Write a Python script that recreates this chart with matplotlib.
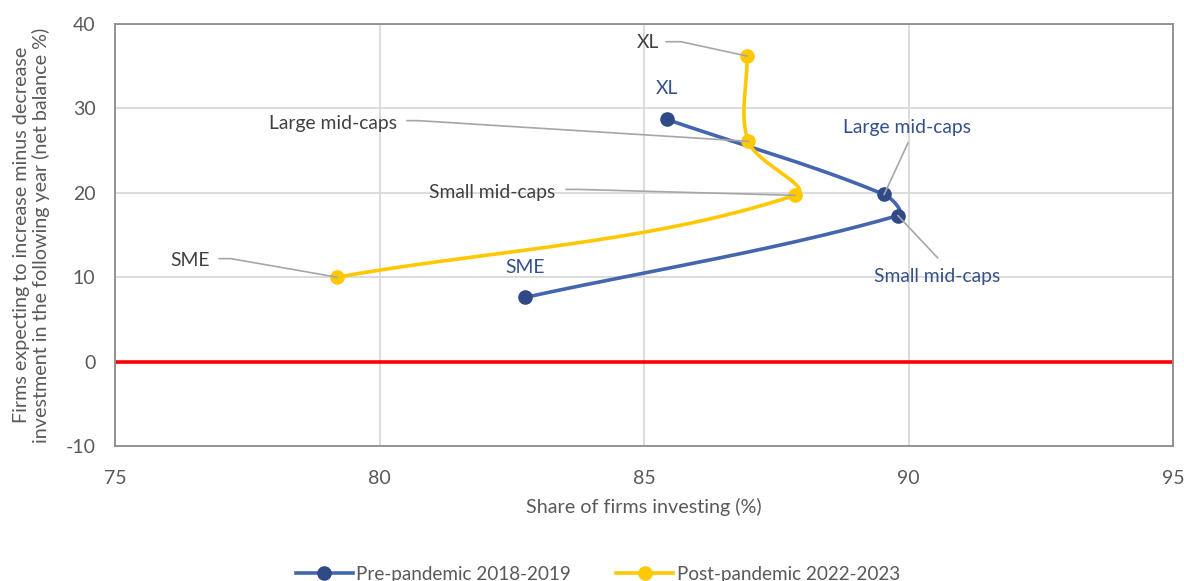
import numpy as np
import matplotlib
matplotlib.use("Agg")
import matplotlib.pyplot as plt
from matplotlib.lines import Line2D

# ---- data ----
labels = ["XL", "Large mid-caps", "Small mid-caps", "SME"]
pre_x = [85.43, 89.54, 89.80, 82.75]
pre_y = [28.7, 19.8, 17.3, 7.6]
post_x = [86.95, 86.97, 87.85, 79.2]
post_y = [36.2, 26.1, 19.7, 10.0]
series_names = ["Pre-pandemic 2018-2019", "Post-pandemic 2022-2023"]
x_ticks = [75, 80, 85, 90, 95]
y_ticks = [-10, 0, 10, 20, 30, 40]

plt.rcParams['font.family'] = ['Lato', 'DejaVu Sans']
plt.rcParams['axes.unicode_minus'] = False

BLUE_LINE = "#4466AE"
BLUE_MARK = "#2F4A86"
BLUE_TEXT = "#34508C"
YELLOW = "#FFC800"
GRAY_TEXT = "#404040"
TICK_COL = "#595959"
LEADER = "#A6A6A6"

fig = plt.figure(figsize=(11.84, 5.81), dpi=100)
ax = fig.add_axes([115/1184, 1-446/581, (1173-115)/1184, (446-24)/581])
ax.set_xlim(75, 95)
ax.set_ylim(-10, 40)
ax.set_xticks(x_ticks)
ax.set_yticks(y_ticks)
ax.tick_params(length=0, labelsize=14, labelcolor=TICK_COL)
ax.tick_params(axis="x", pad=17)
ax.tick_params(axis="y", pad=14)
ax.grid(True, color="#D9D9D9", linewidth=1.3)
ax.set_axisbelow(True)
for s in ax.spines.values():
    s.set_color("#8C8C8C")
    s.set_linewidth(1.3)

ax.axhline(0, color="#FF0000", linewidth=2.6, zorder=2)


def smooth(xs, ys, n=60):
    pts = ax.transData.transform(np.column_stack([xs, ys]))
    out = []
    m = len(pts)
    for i in range(m - 1):
        p0 = pts[max(i - 1, 0)]
        p1 = pts[i]
        p2 = pts[i + 1]
        p3 = pts[min(i + 2, m - 1)]
        d = np.linalg.norm(p2 - p1)
        t1 = p2 - p0
        t2 = p3 - p1
        n1 = np.linalg.norm(t1)
        n2 = np.linalg.norm(t2)
        c1 = p1 + (t1 / n1 * d / 3 if n1 > 0 else 0)
        c2 = p2 - (t2 / n2 * d / 3 if n2 > 0 else 0)
        t = np.linspace(0, 1, n)[:, None]
        seg = (1 - t) ** 3 * p1 + 3 * (1 - t) ** 2 * t * c1 + 3 * (1 - t) * t ** 2 * c2 + t ** 3 * p2
        out.append(seg if i == 0 else seg[1:])
    return ax.transData.inverted().transform(np.vstack(out))


sp = smooth(pre_x, pre_y)
ax.plot(sp[:, 0], sp[:, 1], color=BLUE_LINE, linewidth=2.6, zorder=3, solid_capstyle="round")
ax.plot(pre_x, pre_y, linestyle="none", marker="o", markersize=9.5, color=BLUE_MARK, zorder=4)

pp = smooth(post_x, post_y)
ax.plot(pp[:, 0], pp[:, 1], color=YELLOW, linewidth=2.6, zorder=3, solid_capstyle="round")
ax.plot(post_x, post_y, linestyle="none", marker="o", markersize=9.5, color=YELLOW, zorder=4)

fs = 13.9
# post-pandemic labels (gray text with leader lines)
post_text = [(85.07, 37.8), (79.12, 28.2), (82.13, 20.0), (76.42, 12.0)]
post_stub = [((85.42, 85.70), 37.9), ((80.52, 80.73), 28.55), ((83.53, 83.76), 20.4), ((76.97, 77.19), 12.2)]
for lab, (tx, ty), ((sx0, sx1), sy), px, py in zip(labels, post_text, post_stub, post_x, post_y):
    ax.text(tx, ty, lab, ha="center", va="center", fontsize=fs, color=GRAY_TEXT, zorder=6)
    ax.plot([sx0, sx1, px], [sy, sy, py], color=LEADER, linewidth=1.2, zorder=5)

# pre-pandemic labels (blue text)
pre_text = [(85.44, 32.35), (89.97, 27.7), (90.55, 10.1), (82.76, 11.1)]
for lab, (tx, ty) in zip(labels, pre_text):
    ax.text(tx, ty, lab, ha="center", va="center", fontsize=fs, color=BLUE_TEXT, zorder=6)
ax.plot([89.99, pre_x[1]], [25.9, pre_y[1]], color=LEADER, linewidth=1.2, zorder=5)
ax.plot([90.55, pre_x[2]], [12.3, pre_y[2]], color=LEADER, linewidth=1.2, zorder=5)

ax.set_xlabel("Share of firms investing (%)", fontsize=14.2, color=TICK_COL, labelpad=8)
ax.set_ylabel("Firms expecting to increase minus decrease\ninvestment in the following year (net balance %)",
              fontsize=14.2, color=TICK_COL, labelpad=11, linespacing=1.15)

handles = [
    Line2D([0], [0], color=BLUE_LINE, linewidth=2.6, marker="o", markersize=9.5,
           markerfacecolor=BLUE_MARK, markeredgecolor=BLUE_MARK),
    Line2D([0], [0], color=YELLOW, linewidth=2.6, marker="o", markersize=9.5),
]
fig.legend(handles, series_names, loc="center", bbox_to_anchor=(0.505, 0.012), ncol=2,
           frameon=False, fontsize=13.6, labelcolor=TICK_COL, handlelength=3.0,
           columnspacing=2.4, handletextpad=0.2)

fig.savefig("out.png", dpi=100)
